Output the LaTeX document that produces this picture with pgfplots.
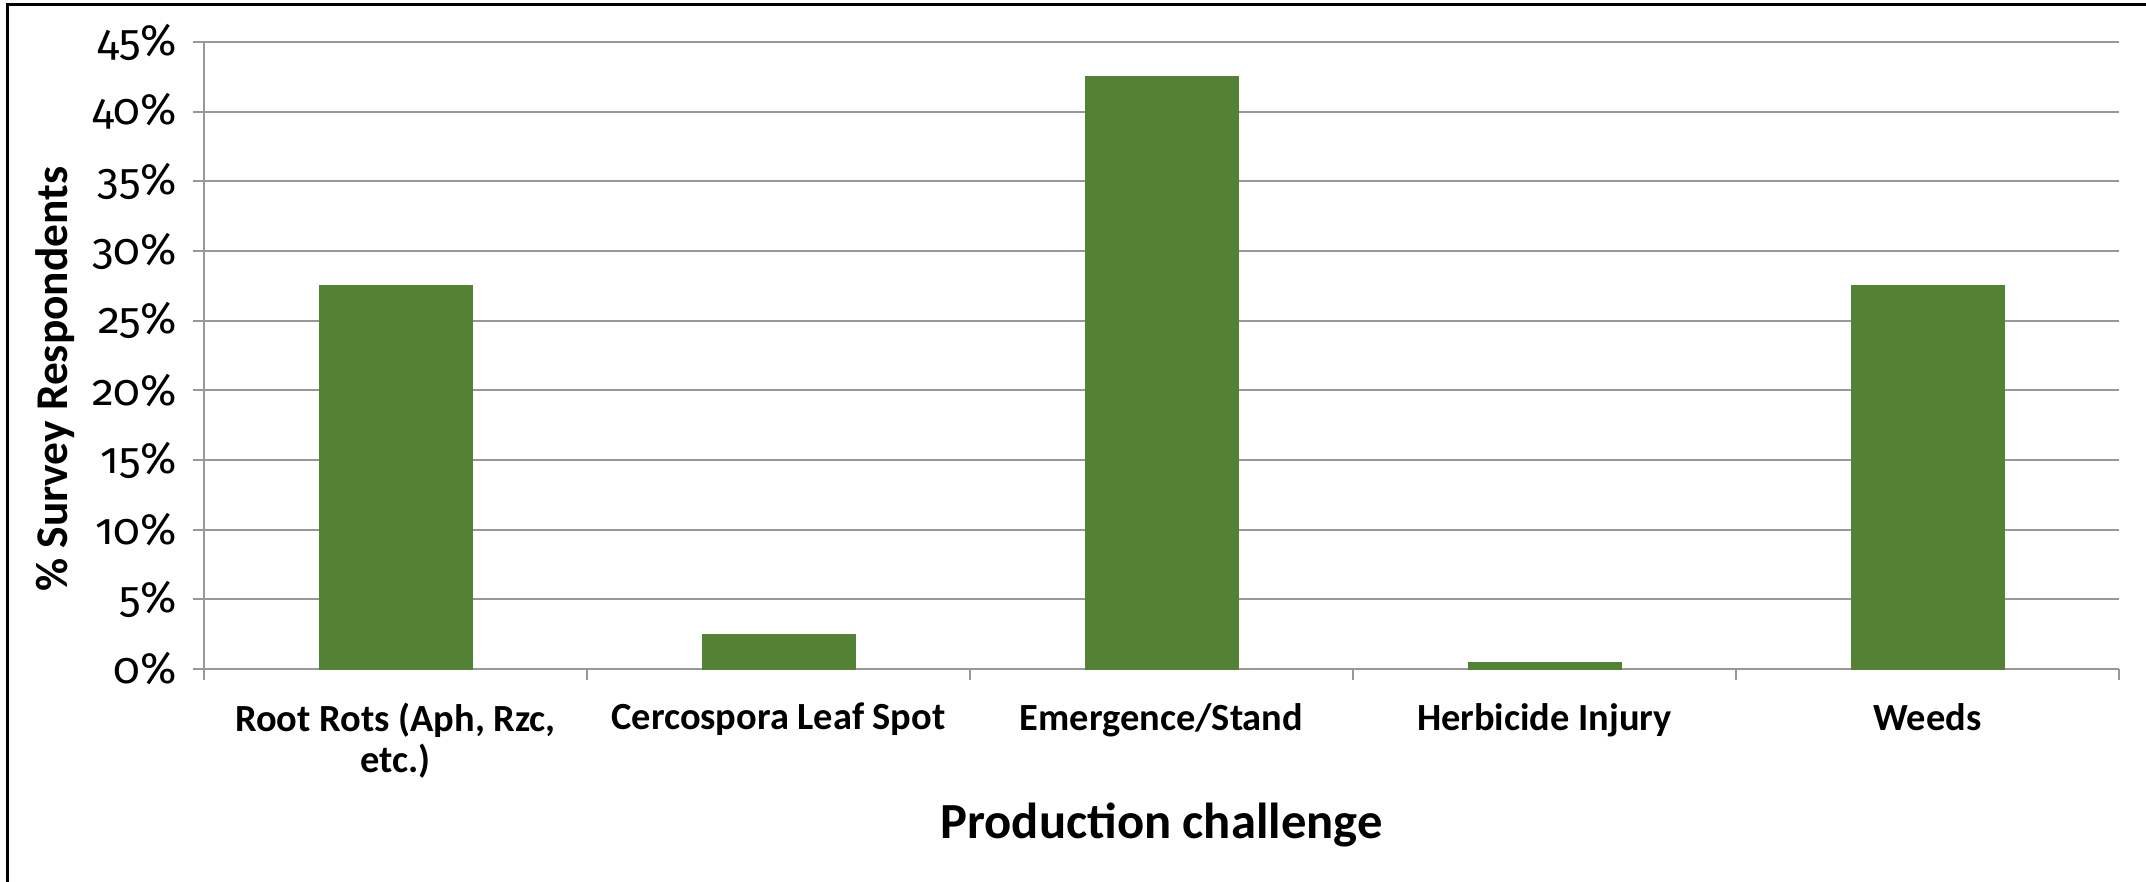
\documentclass[border=0pt]{standalone}
\usepackage{fontspec}
\setmainfont{Carlito}
\newfontfamily\tickfont{Fira Sans}[Numbers=OldStyle]
\usepackage{pgfplots}
\pgfplotsset{compat=1.18}
\definecolor{bargreen}{RGB}{84,130,53}
\definecolor{gridgray}{RGB}{152,152,152}
\begin{document}
\begin{tikzpicture}
\begin{axis}[
  at={(102pt,-334.5pt)}, anchor=south west,
  scale only axis, width=957.5pt, height=313.5pt,
  xmin=-0.5, xmax=4.5, ymin=0, ymax=45,
  ybar, bar width=76.5pt,
  axis x line=bottom, axis y line=left,
  axis line style={-, gridgray, line width=1pt},
  ytick={0,5,...,45},
  yticklabels={0\%,5\%,10\%,15\%,20\%,25\%,30\%,35\%,40\%,45\%},
  ymajorgrids, grid style={gridgray, line width=1pt},
  xtick={0,1,2,3,4},
  xticklabels={{Root Rots (Aph, Rzc,\\etc.)},{Cercospora Leaf Spot},{Emergence/Stand},{Herbicide Injury},{Weeds}},
  minor xtick={-0.5,0.5,1.5,2.5,3.5,4.5},
  major x tick style={draw=none},
  tick align=outside, major tick length=5.5pt, minor tick length=5.5pt,
  tick style={gridgray, line width=1pt},
  yticklabel style={font=\tickfont\fontsize{22}{25}\selectfont, xshift=-4.5pt},
  xticklabel style={font=\bfseries\fontsize{19.2}{20.5}\selectfont, align=center, yshift=-8pt},
  ylabel={\% Survey Respondents},
  ylabel style={font=\bfseries\fontsize{22.7}{26}\selectfont, at={(axis description cs:-0.0778,0.462)}, anchor=center},
  xlabel={Production challenge},
  xlabel style={font=\bfseries\fontsize{25.3}{29}\selectfont, at={(axis description cs:0.5,-0.249)}, anchor=center},
]
\addplot[fill=bargreen, draw=bargreen] coordinates {(0,27.5) (1,2.5) (2,42.5) (3,0.5) (4,27.5)};
\end{axis}
\draw[line width=1.3pt] (3.85pt,-2.35pt) rectangle (1085pt,-450pt);
\pgfresetboundingbox
\useasboundingbox (0,0) rectangle (1073pt,-441pt);
\end{tikzpicture}
\end{document}
